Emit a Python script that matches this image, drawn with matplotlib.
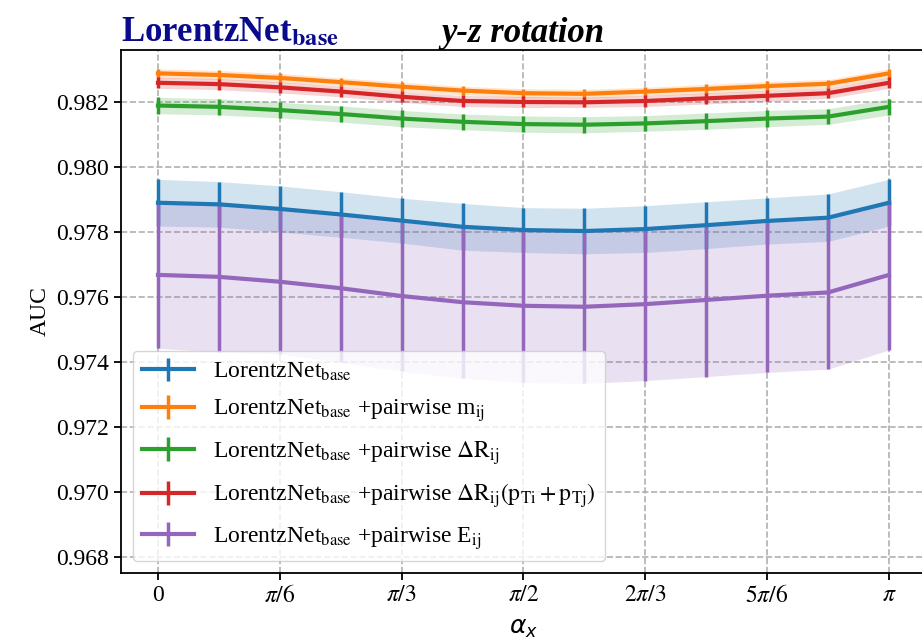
import numpy as np
import matplotlib
matplotlib.use('Agg')
import matplotlib.pyplot as plt

plt.rcParams['font.family'] = ['Liberation Serif', 'DejaVu Serif']
plt.rcParams['mathtext.fontset'] = 'stix'

# rotation angle alpha_x, 13 steps from 0 to pi
alpha = np.linspace(0, np.pi, 13)

# mean AUC and std for each model
auc_base = [0.97891, 0.97886, 0.97872, 0.97855, 0.97836, 0.97817, 0.97807,
            0.97804, 0.97810, 0.97822, 0.97835, 0.97845, 0.97891]
std_base = [0.00072, 0.00070, 0.00071, 0.00070, 0.00069, 0.00072, 0.00069,
            0.00070, 0.00072, 0.00072, 0.00071, 0.00073, 0.00072]

auc_mij = [0.98289, 0.98284, 0.98275, 0.98262, 0.98248, 0.98236, 0.98228,
           0.98226, 0.98233, 0.98241, 0.98250, 0.98257, 0.98289]
std_mij = [0.00014, 0.00014, 0.00014, 0.00013, 0.00014, 0.00013, 0.00014,
           0.00014, 0.00013, 0.00014, 0.00014, 0.00013, 0.00014]

auc_dr = [0.98190, 0.98186, 0.98176, 0.98164, 0.98150, 0.98140, 0.98133,
          0.98131, 0.98135, 0.98142, 0.98150, 0.98156, 0.98186]
std_dr = [0.00025, 0.00025, 0.00024, 0.00025, 0.00025, 0.00024, 0.00025,
          0.00025, 0.00024, 0.00025, 0.00025, 0.00024, 0.00025]

auc_drpt = [0.98260, 0.98256, 0.98246, 0.98233, 0.98217, 0.98204, 0.98201,
            0.98200, 0.98204, 0.98212, 0.98220, 0.98228, 0.98260]
std_drpt = [0.00017, 0.00017, 0.00017, 0.00016, 0.00017, 0.00017, 0.00017,
            0.00016, 0.00017, 0.00017, 0.00017, 0.00016, 0.00017]

auc_eij = [0.97669, 0.97663, 0.97648, 0.97628, 0.97604, 0.97585, 0.97574,
           0.97571, 0.97579, 0.97592, 0.97605, 0.97615, 0.97669]
std_eij = [0.00226, 0.00231, 0.00223, 0.00228, 0.00232, 0.00234, 0.00236,
           0.00236, 0.00235, 0.00236, 0.00236, 0.00236, 0.00231]

labels = [r'LorentzNet$_{\mathrm{base}}$',
          r'LorentzNet$_{\mathrm{base}}$ +pairwise m$_{\mathrm{ij}}$',
          r'LorentzNet$_{\mathrm{base}}$ +pairwise $\Delta\mathrm{R}_{\mathrm{ij}}$',
          r'LorentzNet$_{\mathrm{base}}$ +pairwise $\Delta\mathrm{R}_{\mathrm{ij}}(\mathrm{p}_{\mathrm{Ti}}+\mathrm{p}_{\mathrm{Tj}})$',
          r'LorentzNet$_{\mathrm{base}}$ +pairwise E$_{\mathrm{ij}}$']
colors = ['tab:blue', 'tab:orange', 'tab:green', 'tab:red', 'tab:purple']

xtick_pos = [0, np.pi/6, np.pi/3, np.pi/2, 2*np.pi/3, 5*np.pi/6, np.pi]
xtick_lab = ['0', r'$\pi/6$', r'$\pi/3$', r'$\pi/2$', r'$2\pi/3$', r'$5\pi/6$', r'$\pi$']
ytick_pos = [0.968, 0.970, 0.972, 0.974, 0.976, 0.978, 0.980, 0.982]

fig = plt.figure(figsize=(9.22, 6.43), dpi=100)
ax = fig.add_axes([0.1312, 0.1089, 0.8726, 0.8134])

series = [(auc_base, std_base), (auc_mij, std_mij), (auc_dr, std_dr),
          (auc_drpt, std_drpt), (auc_eij, std_eij)]
for (m, s), lab, c in zip(series, labels, colors):
    m = np.array(m)
    s = np.array(s)
    ax.errorbar(alpha, m, yerr=s, color=c, lw=3, elinewidth=2.5, label=lab)
    ax.fill_between(alpha, m - s, m + s, color=c, alpha=0.2, lw=0)

ax.set_xlim(-0.159, np.pi + 0.157)
ax.set_ylim(0.96752, 0.98361)
ax.set_yticks(ytick_pos)
ax.set_yticklabels(['%.3f' % v for v in ytick_pos], fontfamily='Liberation Serif')
ax.set_xticks(xtick_pos)
ax.set_xticklabels(xtick_lab, fontfamily='Liberation Serif')
ax.tick_params(labelsize=17, width=1.3, length=5)
for sp in ax.spines.values():
    sp.set_linewidth(1.3)

ax.grid(True, linestyle='--', color='#b0b0b0', lw=1.2)
ax.set_axisbelow(True)

ax.set_ylabel('AUC', fontsize=17)
ax.set_xlabel(r'$\alpha_x$', fontsize=18, math_fontfamily='dejavusans', labelpad=8)

ax.set_title(r'LorentzNet$_{\mathbf{base}}$', loc='left', fontsize=25,
             fontweight='bold', color='#0a0a8c')
ax.set_title('y-z rotation', loc='center', fontsize=25, fontweight='bold',
             style='italic')

ax.legend(loc='lower left', fontsize=17, handlelength=2.2, labelspacing=0.62,
          borderaxespad=0.5)

fig.savefig('out.png', dpi=100)
